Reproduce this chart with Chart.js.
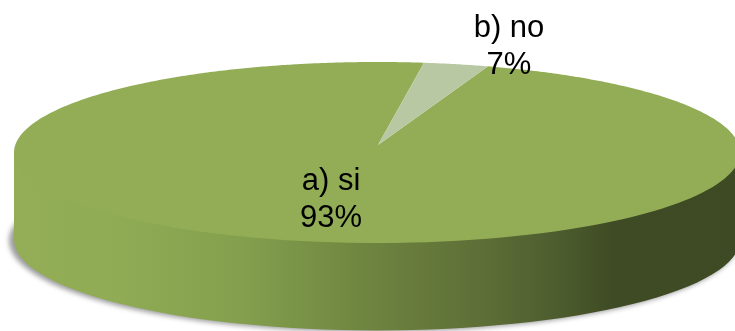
<!DOCTYPE html>
<html>
<head>
<meta charset="utf-8">
<title>a) si / b) no</title>
<style>
  html, body { margin: 0; padding: 0; background: #fff; }
  canvas { display: block; }
</style>
<script src="https://cdn.jsdelivr.net/npm/chart.js@4/dist/chart.umd.js"></script>
</head>
<body>
<canvas id="pie" width="735" height="331"></canvas>
<script>
const categories = ['a) si', 'b) no'];
const answerShares = [93, 7];
const sliceColors = ['#92ad55', '#b8c8a2'];

// Tilted-disc view: the top face, its thickness, and how strongly the far rim foreshortens.
const disc = { cx: 377, cy: 152.5, rx: 363, ry: 90.5, depth: 87, hubX: 378, hubY: 145, farRim: 0.384 };
const labelSpots = [{ x: 331, y: 190 }, { x: 509, y: 37 }];
const LINE_GAP = 36.5;

function rimPoint(angle) {
  // Angle is the library's arc angle, with 0 pointing right; measure from the far side instead.
  const half = (angle + Math.PI / 2) / 2;
  const seen = 2 * Math.atan2(disc.farRim * Math.sin(half), Math.cos(half));
  return { x: disc.cx + disc.rx * Math.sin(seen), y: disc.cy - disc.ry * Math.cos(seen) };
}

// Arcs keep the angles computed by the pie controller but paint as a tilted wedge.
Chart.ArcElement.prototype.draw = function (ctx) {
  const { startAngle, endAngle } = this.getProps(['startAngle', 'endAngle']);
  const steps = Math.max(8, Math.ceil((endAngle - startAngle) * 60));
  ctx.save();
  ctx.beginPath();
  ctx.moveTo(disc.hubX, disc.hubY);
  for (let i = 0; i <= steps; i++) {
    const p = rimPoint(startAngle + (endAngle - startAngle) * i / steps);
    ctx.lineTo(p.x, p.y);
  }
  ctx.closePath();
  ctx.fillStyle = this.options.backgroundColor;
  ctx.fill();
  ctx.restore();
};

const discBody = {
  id: 'discBody',
  beforeDatasetsDraw(chart) {
    const ctx = chart.ctx;
    const bottomY = disc.cy + disc.depth;

    // Soft drop shadow under the disc
    ctx.save();
    ctx.filter = 'blur(2.5px)';
    ctx.fillStyle = 'rgba(50,50,55,0.48)';
    ctx.beginPath();
    ctx.ellipse(disc.cx - 3, bottomY + 1, disc.rx + 2, disc.ry + 1, 0, 0, Math.PI * 2);
    ctx.fill();
    ctx.restore();

    // Side wall, lit from the left
    const wall = ctx.createLinearGradient(disc.cx - disc.rx, 0, disc.cx + disc.rx, 0);
    const span = disc.rx * 2;
    const stop = (x, c) => wall.addColorStop((x - (disc.cx - disc.rx)) / span, c);
    stop(14, '#93ae56');
    stop(120, '#8fab54');
    stop(240, '#84a04e');
    stop(360, '#6f8640');
    stop(480, '#5e6f37');
    stop(560, '#4d5c2e');
    stop(612, '#3f4b24');
    stop(740, '#3e4a23');
    ctx.save();
    ctx.fillStyle = wall;
    ctx.beginPath();
    // The wall's top edge runs straight across the disc so no light seam shows under the rim.
    ctx.moveTo(disc.cx - disc.rx, disc.cy);
    ctx.lineTo(disc.cx + disc.rx, disc.cy);
    ctx.lineTo(disc.cx + disc.rx, bottomY);
    ctx.ellipse(disc.cx, bottomY, disc.rx, disc.ry + 0.5, 0, 0, Math.PI, false);
    ctx.closePath();
    ctx.fill();
    ctx.restore();
  }
};

const sliceLabels = {
  id: 'sliceLabels',
  afterDatasetsDraw(chart) {
    const ctx = chart.ctx;
    const total = answerShares.reduce((a, b) => a + b, 0);
    ctx.save();
    ctx.font = '31px "Liberation Sans", Arial, sans-serif';
    ctx.fillStyle = '#000';
    ctx.textAlign = 'center';
    ctx.textBaseline = 'alphabetic';
    categories.forEach((name, i) => {
      const spot = labelSpots[i];
      ctx.fillText(name, spot.x, spot.y);
      ctx.fillText(Math.round(answerShares[i] / total * 100) + '%', spot.x, spot.y + LINE_GAP);
    });
    ctx.restore();
  }
};

new Chart(document.getElementById('pie'), {
  type: 'pie',
  data: {
    labels: categories,
    datasets: [{ data: answerShares, backgroundColor: sliceColors, borderWidth: 0 }]
  },
  options: {
    responsive: false,
    animation: false,
    rotation: 44.4,
    plugins: { legend: { display: false }, tooltip: { enabled: false } }
  },
  plugins: [discBody, sliceLabels]
});
</script>
</body>
</html>
